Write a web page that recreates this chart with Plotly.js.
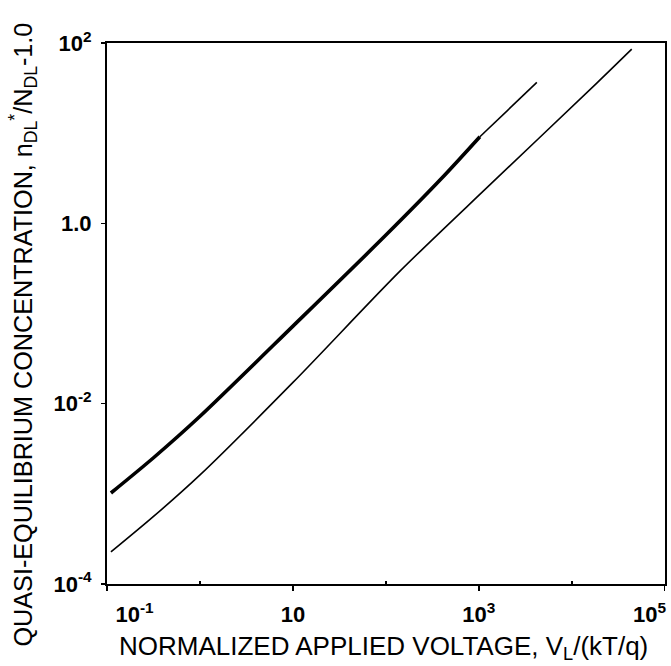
<!DOCTYPE html>
<html>
<head>
<meta charset="utf-8">
<script src="https://cdn.plot.ly/plotly-3.0.1.min.js"></script>
<style>html,body{margin:0;padding:0;background:#fff;}#chart{width:671px;height:666px;}</style>
</head>
<body>
<div id="chart"></div>
<script>
// Thick curve (upper)
const thickX = [0.110, 0.316, 1.0, 10, 100, 398, 1026];
const thickY = [1.02e-3, 2.51e-3, 7.24e-3, 7.24e-2, 0.741, 3.16, 9.14];
// Thin continuation of the upper curve
const upperExtX = [1026, 4207];
const upperExtY = [9.14, 36.6];
// Lower thin curve
const lowerX = [0.110, 0.316, 1.0, 10, 141.6, 1312, 18580, 44160];
const lowerY = [2.26e-4, 5.60e-4, 1.62e-3, 1.72e-2, 0.295, 2.67, 36.0, 85.7];
// Tick values and labels
const NB = '\u00a0';
const xTickVals = [0.1, 10, 1000, 100000];
const xTickText = [NB.repeat(9) + '10<sup>-1</sup>', '10', '10<sup>3</sup>', '10<sup>5</sup>' + NB.repeat(5)];
const xMinorVals = [1, 100, 10000];
const yTickVals = [1e-4, 1e-2, 1, 100];
const yTickText = ['10<sup>-4</sup>', '10<sup>-2</sup>', '1.0', '10<sup>2</sup>'];
const xTitle = 'NORMALIZED APPLIED VOLTAGE, V<sub>L</sub>/(kT/q)';
const yTitle = 'QUASI-EQUILIBRIUM CONCENTRATION, n<sub>DL</sub><sup>*</sup>/N<sub>DL</sub>-1.0';

const traces = [
  {x: thickX, y: thickY, mode: 'lines', line: {color: '#000', width: 3.6, shape: 'spline', smoothing: 0.8}, hoverinfo: 'skip'},
  {x: upperExtX, y: upperExtY, mode: 'lines', line: {color: '#000', width: 1.6}, hoverinfo: 'skip'},
  {x: lowerX, y: lowerY, mode: 'lines', line: {color: '#000', width: 1.6, shape: 'spline', smoothing: 0.8}, hoverinfo: 'skip'}
];

const fontFam = '"Liberation Sans", Arial, Helvetica, sans-serif';
const tickFont = {family: fontFam, size: 22, color: '#000', weight: 'bold'};
const layout = {
  width: 671, height: 666,
  margin: {l: 107, r: 6, t: 43, b: 82},
  paper_bgcolor: '#fff', plot_bgcolor: '#fff',
  showlegend: false,
  font: {family: fontFam, color: '#000'},
  xaxis: {
    type: 'log', range: [-1.001, 5.003],
    tickmode: 'array', tickvals: xTickVals, ticktext: xTickText,
    ticks: 'outside', ticklen: 5, tickwidth: 1.5, tickcolor: '#000',
    minor: {tickmode: 'array', tickvals: xMinorVals, ticks: 'inside', ticklen: 3, tickwidth: 1.5, tickcolor: '#000'},
    ticklabelstandoff: 5,
    ticklabeloverflow: 'allow',
    showgrid: false, zeroline: false,
    showline: true, linecolor: '#000', linewidth: 2, mirror: true,
    tickfont: tickFont
  },
  yaxis: {
    type: 'log', range: [-4.001, 2.001],
    tickmode: 'array', tickvals: yTickVals, ticktext: yTickText,
    ticks: 'outside', ticklen: 4, tickwidth: 1.5, tickcolor: '#000',
    ticklabelstandoff: 5,
    ticklabeloverflow: 'allow',
    showgrid: false, zeroline: false,
    showline: true, linecolor: '#000', linewidth: 2, mirror: true,
    tickfont: tickFont
  },
  annotations: [
    {text: xTitle, xref: 'paper', yref: 'paper', x: 0.5, y: 0, xanchor: 'center', yanchor: 'middle',
     xshift: -3, yshift: -63, showarrow: false, font: {family: fontFam, size: 26, color: '#000'}},
    {text: yTitle, xref: 'paper', yref: 'paper', x: 0, y: 0.5, xanchor: 'center', yanchor: 'middle',
     xshift: -84, yshift: -21, textangle: -90, showarrow: false, font: {family: fontFam, size: 25.2, color: '#000'}}
  ]
};

Plotly.newPlot('chart', traces, layout, {staticPlot: true, displayModeBar: false});
</script>
</body>
</html>
